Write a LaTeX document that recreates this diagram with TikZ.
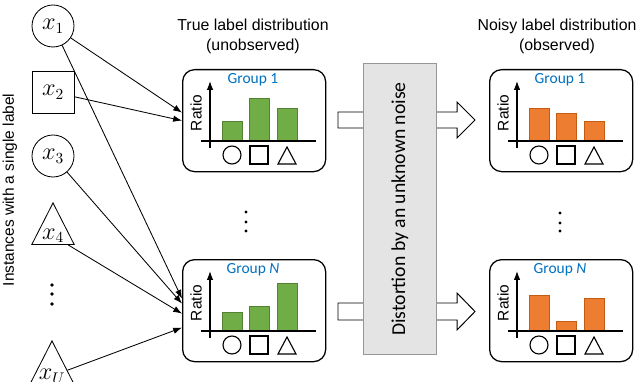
\documentclass[tikz,border=0pt]{standalone}
\usepackage{fontspec}
\setsansfont{Liberation Sans}
\newfontfamily\calibri{Carlito}
\usepackage{xcolor}
\usetikzlibrary{positioning, arrows.meta, shapes.geometric}

\definecolor{gblue}{RGB}{0,112,192}
\definecolor{ggreen}{RGB}{112,173,71}
\definecolor{ggreenline}{RGB}{84,130,53}
\definecolor{gorange}{RGB}{237,125,49}
\definecolor{gorangeline}{RGB}{197,90,17}
\definecolor{noisefill}{RGB}{228,228,228}
\definecolor{noiseline}{RGB}{150,150,150}

% one distribution box: name, left, top, group label, bar style, three bar heights
\newcommand{\distbox}[8]{%
    \node[gbox, anchor=north west] (#1) at (#2,#3) {};
    \node[glabel] (#1-title) at (#2+71,#3+11) {#4};
    \node[ratio] (#1-ratio) at (#2+14,#3+44) {Ratio};
    \draw[#5] (#2+40,#3+72) rectangle ++(20,-#6);
    \draw[#5] (#2+67,#3+72) rectangle ++(20,-#7);
    \draw[#5] (#2+95,#3+72) rectangle ++(20,-#8);
    \draw[-{Latex[length=2.2mm,width=1.6mm]}, line width=0.8pt] (#2+28,#3+79) -- (#2+28,#3+12);
    \draw[line width=0.9pt] (#2+19,#3+72) -- (#2+134,#3+72);
    \draw[line width=0.8pt] (#2+50,#3+86) circle[radius=9];
    \draw[line width=0.8pt] (#2+68,#3+77) rectangle ++(18,18);
    \draw[line width=0.8pt] (#2+96,#3+95) -- ++(18,0) -- ++(-9,-17) -- cycle;
}

\begin{document}
\begin{tikzpicture}[x=0.25mm, y=-0.25mm,
    inst/.style = {draw, line width=0.6pt, minimum size=10.5mm, inner sep=0pt, font=\fontsize{16}{18}\selectfont},
    tri/.style = {inst, shape=isosceles triangle, shape border rotate=90, isosceles triangle apex angle=54,
        minimum width=10.4mm, minimum height=10.4mm, inner sep=0.5pt},
    gbox/.style = {draw, line width=0.9pt, rounded corners=3mm, minimum width=35.75mm, minimum height=25.5mm},
    glabel/.style = {text=gblue, font=\calibri\fontsize{11}{13}\selectfont},
    ratio/.style = {rotate=90, font=\sffamily\fontsize{11}{13}\selectfont},
    title/.style = {align=center, font=\sffamily\fontsize{11.3}{14.2}\selectfont},
    greenbar/.style = {fill=ggreen, draw=ggreenline, line width=0.7pt},
    orangebar/.style = {fill=gorange, draw=gorangeline, line width=0.7pt},
    link/.style = {-{Latex[length=2.2mm,width=1.6mm]}, line width=0.6pt},
    hollow/.style = {draw, fill=white, line width=0.7pt},
    dot/.style = {circle, fill, inner sep=0pt, minimum size=0.9mm}]

    \useasboundingbox (0,0) rectangle (640,382);

    % instances
    \node[inst, circle] (x1) at (53,26) {$x_1$};
    \node[inst, rectangle] (x2) at (53,92) {$x_2$};
    \node[inst, circle] (x3) at (53,156) {$x_3$};
    \node[tri, anchor=apex] (x4) at (53,202) {$x_4$};
    \node[dot] (d1) at (52,285) {};
    \node[dot] (d2) at (52,294) {};
    \node[dot] (d3) at (52,304) {};
    \node[tri, anchor=apex] (xU) at (52,340) {$x_U$};
    \node[rotate=90, font=\sffamily\fontsize{11}{13}\selectfont] (inlabel) at (10,190) {Instances with a single label};

    % titles
    \node[title] (truetitle) at (253,36) {True label distribution\\(unobserved)};
    \node[title] (noisytitle) at (557,36) {Noisy label distribution\\(observed)};

    % hollow arrows (behind the noise box)
    \draw[hollow] (338,112) -- (457,112) -- (457,102) -- (475,120) -- (457,138) -- (457,128) -- (338,128) -- cycle;
    \draw[hollow] (338,303) -- (457,303) -- (457,293) -- (475,311.5) -- (457,330) -- (457,320) -- (338,320) -- cycle;

    % noise
    \node[draw=noiseline, fill=noisefill, line width=0.7pt, minimum width=18.25mm, minimum height=72.75mm,
        anchor=north west] (noise) at (363,63) {};
    \node[rotate=90, font=\calibri\fontsize{14}{16}\selectfont] (noisetext) at (noise.center) {Distortion by an unknown noise};

    % distributions
    \distbox{g1}{182}{69}{Group 1}{greenbar}{20}{43}{33}
    \distbox{gN}{182}{259}{Group \textit{N}}{greenbar}{19}{25}{48}
    \distbox{n1}{489}{69}{Group 1}{orangebar}{33}{28}{20}
    \distbox{nN}{489}{259}{Group \textit{N}}{orangebar}{36}{10}{33}

    \node[dot, minimum size=0.8mm] (ld1) at (246,212) {};
    \node[dot, minimum size=0.8mm] (ld2) at (246,222) {};
    \node[dot, minimum size=0.8mm] (ld3) at (246,231) {};
    \node[dot, minimum size=0.8mm] (rd1) at (560,213) {};
    \node[dot, minimum size=0.8mm] (rd2) at (560,223) {};
    \node[dot, minimum size=0.8mm] (rd3) at (560,231) {};

    % links
    \draw[link] (x1) -- ([yshift=2mm]g1.west);
    \draw[link] (x2) -- (g1.west);
    \draw[link] (x1) -- ([yshift=3mm]gN.west);
    \draw[link] (x3) -- ([yshift=1.75mm]gN.west);
    \draw[link] (x4) -- ([yshift=-0.75mm]gN.west);
    \draw[link] (xU) -- ([yshift=-4.25mm]gN.west);
\end{tikzpicture}
\end{document}
